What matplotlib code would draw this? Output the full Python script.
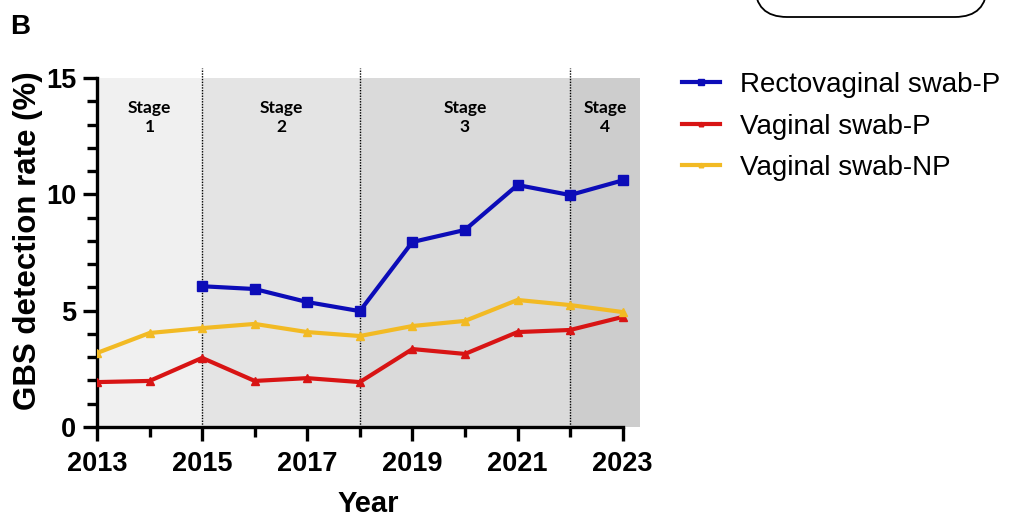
import numpy as np
import matplotlib
matplotlib.use("Agg")
import matplotlib.pyplot as plt
from matplotlib.patches import FancyBboxPatch
from matplotlib.ticker import MultipleLocator

plt.rcParams['font.family'] = ['Liberation Sans', 'DejaVu Sans']

years = [2013, 2014, 2015, 2016, 2017, 2018, 2019, 2020, 2021, 2022, 2023]
recto_years = [2015, 2016, 2017, 2018, 2019, 2020, 2021, 2022, 2023]
recto_p = [6.05, 5.93, 5.37, 4.98, 7.95, 8.47, 10.4, 9.97, 10.6]
vaginal_p = [1.93, 1.98, 2.97, 1.98, 2.1, 1.93, 3.35, 3.14, 4.08, 4.17, 4.73]
vaginal_np = [3.18, 4.04, 4.25, 4.43, 4.08, 3.91, 4.34, 4.56, 5.46, 5.24, 4.94]

stage_bounds = [2013, 2015, 2018, 2022, 2023.33]
stage_names = ["Stage\n1", "Stage\n2", "Stage\n3", "Stage\n4"]
stage_colors = ["#f0f0f0", "#e4e4e4", "#dadada", "#cdcdcd"]

fig = plt.figure(figsize=(10.09, 5.17), dpi=100)
ax = fig.add_axes([97 / 1009, 1 - 427 / 517, 543 / 1009, 349 / 517])

for i in range(4):
    ax.axvspan(stage_bounds[i], stage_bounds[i + 1], color=stage_colors[i], lw=0, zorder=0)
    ax.text((stage_bounds[i] + stage_bounds[i + 1]) / 2, 14.05, stage_names[i],
            ha="center", va="top", fontsize=12.5, fontweight="bold",
            family=["Lato", "DejaVu Sans"], linespacing=1.25)
for b in stage_bounds[1:4]:
    ax.plot([b, b], [0, 15.45], ls=(0, (1, 1)), color="black", lw=1, clip_on=False, zorder=1)

ax.plot(recto_years, recto_p, color="#0c0cb8", lw=3, marker="s", ms=6.5,
        label="Rectovaginal swab-P", zorder=4)
ax.plot(years, vaginal_p, color="#d81414", lw=3, marker="^", ms=5.5,
        label="Vaginal swab-P", zorder=3)
ax.plot(years, vaginal_np, color="#f2ba24", lw=3, marker="^", ms=5.5,
        label="Vaginal swab-NP", zorder=3)

ax.set_xlim(2013, 2023.33)
ax.set_ylim(0, 15)
ax.spines["top"].set_visible(False)
ax.spines["right"].set_visible(False)
for s in ["left", "bottom"]:
    ax.spines[s].set_linewidth(2.4)
ax.spines["bottom"].set_bounds(2013, 2023)

ax.set_xticks([2013, 2015, 2017, 2019, 2021, 2023])
ax.xaxis.set_minor_locator(MultipleLocator(1))
ax.yaxis.set_major_locator(MultipleLocator(5))
ax.yaxis.set_minor_locator(MultipleLocator(1))
ax.tick_params(which="major", length=10, width=2.4, labelsize=19.5, pad=5)
ax.tick_params(which="minor", length=7, width=2.4)
ax.tick_params(axis="x", pad=7)
for lab in ax.get_xticklabels() + ax.get_yticklabels():
    lab.set_fontweight("bold")

ax.set_xlabel("Year", fontsize=21, fontweight="bold", labelpad=10)
ax.set_ylabel("GBS detection rate (%)", fontsize=22.5, fontweight="bold")
ax.yaxis.set_label_coords(-0.1, 0.535)

ax.legend(loc="upper left", bbox_to_anchor=(682 / 1009, 1 - 72 / 517),
          bbox_transform=fig.transFigure, frameon=False, borderpad=0, borderaxespad=0,
          fontsize=20, handlelength=1.37, handletextpad=0.72, labelspacing=0.56,
          markerscale=0.6)

fig.text(10 / 1009, 1 - 27 / 517, "B", fontsize=20, fontweight="bold", va="center")

box = FancyBboxPatch((755, 517 - 17), 232, 60, boxstyle="round,pad=0,rounding_size=32",
                     transform=None, fc="white", ec="black", lw=1.3)
fig.patches.append(box)

fig.savefig("out.png", dpi=100)
